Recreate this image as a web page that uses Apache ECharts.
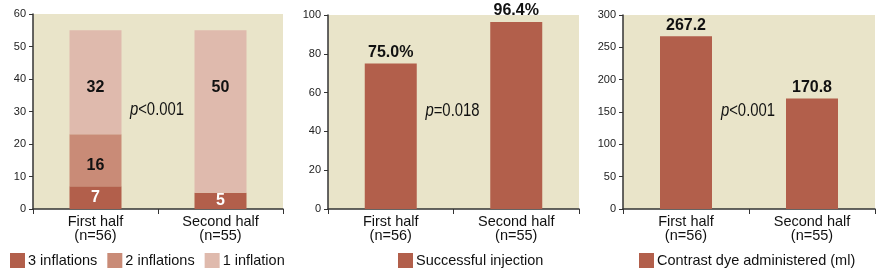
<!DOCTYPE html>
<html><head><meta charset="utf-8">
<script src="https://cdn.jsdelivr.net/npm/echarts@6/dist/echarts.min.js"></script>
<style>html,body{margin:0;padding:0;background:#fff}#c{width:886px;height:278px}</style>
</head><body><div id="c"></div>
<script>
const categories = ['First half\n(n=56)', 'Second half\n(n=55)'];
const threeInflations = [7, 5];
const twoInflations = [16, 0];
const oneInflation = [32, 50];
const successfulInjection = [75.0, 96.4];
const contrastDye = [267.2, 170.8];
const yTicks1 = [0, 10, 20, 30, 40, 50, 60];
const yTicks2 = [0, 20, 40, 60, 80, 100];
const yTicks3 = [0, 50, 100, 150, 200, 250, 300];
const pValues = ['<0.001', '=0.018', '<0.001'];

const C_DARK = '#B25F4B', C_MID = '#C98B77', C_LIGHT = '#DFBAAD';
const BG = '#E9E4C9';
const SANS = 'Liberation Sans';

function yAxis(i, ticks) {
  return {
    gridIndex: i, type: 'value', min: ticks[0], max: ticks[ticks.length - 1],
    interval: ticks[1] - ticks[0],
    axisLine: {show: true, lineStyle: {color: '#333', width: 1.5}},
    axisTick: {show: true, length: 4, lineStyle: {color: '#333'}},
    splitLine: {show: false},
    axisLabel: {fontFamily: SANS, fontSize: 11, color: '#222', margin: 7}
  };
}
function xAxis(i) {
  return {
    gridIndex: i, type: 'category', data: categories,
    axisLine: {show: true, lineStyle: {color: '#333', width: 1.5}},
    axisTick: {show: true, length: 5, lineStyle: {color: '#333'}},
    axisLabel: {fontFamily: SANS, fontSize: 14.5, lineHeight: 14, color: '#111', margin: 6}
  };
}
const boldLabel = {fontFamily: SANS, fontWeight: 'bold', fontSize: 16, color: '#111'};
const hideZero = p => (p.value ? String(p.value) : '');
const legendText = {fontFamily: SANS, fontSize: 14.5, color: '#111', padding: [0, 0, 0, -2]};

const option = {
  animation: false,
  backgroundColor: '#fff',
  grid: [
    {left: 33, top: 14, width: 250, height: 195, show: true, backgroundColor: BG, borderWidth: 0},
    {left: 328, top: 15, width: 251, height: 194, show: true, backgroundColor: BG, borderWidth: 0},
    {left: 623, top: 15, width: 252, height: 194, show: true, backgroundColor: BG, borderWidth: 0}
  ],
  xAxis: [xAxis(0), xAxis(1), xAxis(2)],
  yAxis: [yAxis(0, yTicks1), yAxis(1, yTicks2), yAxis(2, yTicks3)],
  legend: [
    {left: 10, top: 253, padding: 0, itemWidth: 15, itemHeight: 15, itemGap: 10, icon: 'rect',
     data: ['3 inflations', '2 inflations', '1 inflation'], textStyle: legendText},
    {left: 398, top: 253, padding: 0, itemWidth: 15, itemHeight: 15, icon: 'rect',
     data: ['Successful injection'], textStyle: legendText},
    {left: 639, top: 253, padding: 0, itemWidth: 15, itemHeight: 15, icon: 'rect',
     data: ['Contrast dye administered (ml)'], textStyle: legendText}
  ],
  series: [
    {name: '3 inflations', type: 'bar', stack: 'a', xAxisIndex: 0, yAxisIndex: 0, barWidth: 52,
     data: threeInflations, itemStyle: {color: C_DARK},
     label: Object.assign({}, boldLabel, {show: true, position: 'inside', color: '#fff', formatter: hideZero})},
    {name: '2 inflations', type: 'bar', stack: 'a', xAxisIndex: 0, yAxisIndex: 0, barWidth: 52,
     data: twoInflations, itemStyle: {color: C_MID},
     label: Object.assign({}, boldLabel, {show: true, position: 'inside', offset: [0, 5], formatter: hideZero})},
    {name: '1 inflation', type: 'bar', stack: 'a', xAxisIndex: 0, yAxisIndex: 0, barWidth: 52,
     data: oneInflation, itemStyle: {color: C_LIGHT},
     label: Object.assign({}, boldLabel, {show: true, position: 'insideTop', distance: 49, formatter: hideZero})},
    {name: 'Successful injection', type: 'bar', xAxisIndex: 1, yAxisIndex: 1, barWidth: 52,
     data: successfulInjection, itemStyle: {color: C_DARK},
     label: Object.assign({}, boldLabel, {show: true, position: 'top', distance: 3,
       formatter: p => p.value.toFixed(1) + '%'})},
    {name: 'Contrast dye administered (ml)', type: 'bar', xAxisIndex: 2, yAxisIndex: 2, barWidth: 52,
     data: contrastDye, itemStyle: {color: C_DARK},
     label: Object.assign({}, boldLabel, {show: true, position: 'top', distance: 3,
       formatter: p => p.value.toFixed(1)})}
  ]
};
const chart = echarts.init(document.getElementById('c'), null, {renderer: 'canvas'});
chart.setOption(option);

// p-value annotations centred between the two categories of each panel
const gridYRef = [30, 50, 150];
const graphics = pValues.map((pv, i) => {
  const left = chart.convertToPixel({xAxisIndex: i}, 0);
  const right = chart.convertToPixel({xAxisIndex: i}, 1);
  const y = chart.convertToPixel({yAxisIndex: i}, gridYRef[i]) - 1;
  return {
    type: 'text', x: (left + right) / 2 - 1, y: y, scaleX: 0.85,
    style: {
      text: '{i|p}{n|' + pv + '}', align: 'center', verticalAlign: 'middle',
      rich: {
        i: {fontFamily: SANS, fontStyle: 'italic', fontSize: 17.5, fill: '#111'},
        n: {fontFamily: SANS, fontSize: 17.5, fill: '#111'}
      }
    }
  };
});
chart.setOption({graphic: graphics});
</script></body></html>
